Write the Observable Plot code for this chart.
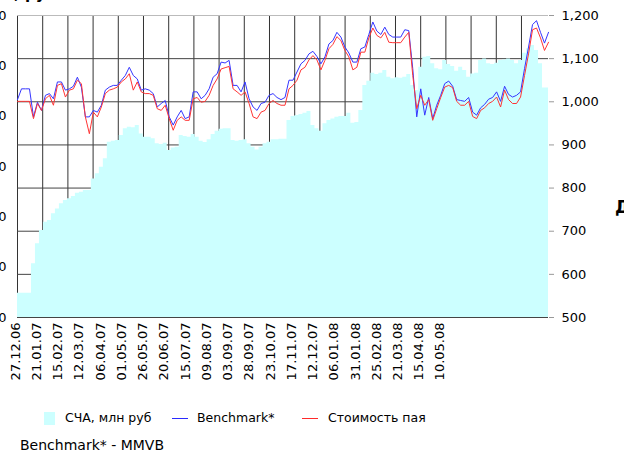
<!DOCTYPE html>
<html>
<head>
<meta charset="utf-8">
<script src="https://cdn.jsdelivr.net/npm/d3@7"></script>
<script src="https://cdn.jsdelivr.net/npm/@observablehq/plot@0.6"></script>
<style>
  html, body { margin: 0; padding: 0; background: #fff; }
  #wrap { position: relative; width: 624px; height: 454px; overflow: hidden; font-family: "DejaVu Sans", sans-serif; color: #000; }
  #chart { position: absolute; left: 0; top: 0; }
  #chart svg { overflow: visible; }
  .abs { position: absolute; white-space: nowrap; }
  .legend { font-size: 12.5px; }
  .sw { position: absolute; }
</style>
</head>
<body>
<div id="wrap">
  <div class="abs" id="title" style="right:568px; top:-14px; font: bold 15px 'DejaVu Sans', sans-serif; line-height:17px;">Стоимость пая, руб</div>
  <div id="chart"></div>
  <div class="abs" style="left:615px; top:197px; font: bold 17px 'DejaVu Sans', sans-serif;">Доходность</div>
  <div class="sw" style="left:44px; top:412px; width:11px; height:13px; background:#ccffff;"></div>
  <div class="abs legend" style="left:65px; top:410px;">СЧА, млн руб</div>
  <div class="sw" style="left:172px; top:418px; width:16px; height:1px; background:#2a2aff;"></div>
  <div class="abs legend" style="left:197px; top:410px;">Benchmark*</div>
  <div class="sw" style="left:302px; top:418px; width:16px; height:1px; background:#ff2a2a;"></div>
  <div class="abs legend" style="left:328px; top:410px;">Стоимость пая</div>
  <div class="abs" style="left:20px; top:437px; font-size:14px;">Benchmark* - MMVB</div>
</div>
<script>
// Date tick labels (every 25 days from 27.12.06)
const tickLabels = ["27.12.06","21.01.07","15.02.07","12.03.07","06.04.07","01.05.07","26.05.07","20.06.07","15.07.07","09.08.07","03.09.07","28.09.07","23.10.07","17.11.07","12.12.07","06.01.08","31.01.08","25.02.08","21.03.08","15.04.08","10.05.08"];
const labelStepDays = 25;
const axisSpanDays = 625;
const gridStepDays = 29.66;

// Right axis (unit value / benchmark)
const rightTicks = [500, 600, 700, 800, 900, 1000, 1100, 1200];
// Left axis (СЧА, млн руб) – labels mostly cut off in the original
const leftTicks = [0, 500, 1000, 1500, 2000, 2500, 3000];
const leftMax = 3000;

// Benchmark* (MMVB), sampled evenly across the period
const benchmark = [
  1005,1030,1030,1030,965,999,980,1015,1019,1007,
  1046,1046,1027,1030,1036,1057,1034,965,965,980,
  976,992,1027,1034,1038,1038,1050,1061,1080,1061,
  1053,1027,1030,1027,1019,988,996,1003,965,946,
  965,980,961,965,1023,1023,1007,1015,1030,1057,
  1065,1092,1090,1096,1038,1038,1023,1046,1007,988,
  980,996,999,1015,1019,1010,1005,1010,1050,
  1050,1069,1088,1096,1111,1117,1105,1088,1104,1134,
  1142,1161,1150,1127,1113,1092,1092,1123,1127,1156,
  1185,1164,1156,1173,1156,1150,1150,1150,1167,1165,
  1077,965,1030,969,1010,961,992,1015,1042,1048,
  1036,1005,1003,1001,1010,976,969,986,994,1006,
  1010,1023,1001,1036,1017,1011,1015,1023,1077,1127,
  1179,1188,1161,1136,1161
];
// Стоимость пая (unit value)
const fund = [
  1001,1001,1001,1001,961,996,980,1007,1015,992,
  1038,1042,1011,1027,1030,1050,1042,965,926,976,
  965,988,1019,1027,1030,1034,1046,1053,1065,1027,
  1046,1023,1019,1019,1015,984,980,992,961,934,
  957,965,957,957,1007,1010,999,1001,1015,1038,
  1053,1076,1079,1082,1030,1023,1015,1023,996,965,
  961,976,980,996,1003,996,992,992,1030,
  1038,1050,1074,1080,1097,1107,1097,1074,1096,1123,
  1133,1151,1142,1119,1104,1074,1080,1115,1115,1148,
  1171,1154,1148,1161,1138,1137,1137,1137,1150,1161,
  1061,984,1015,992,1005,957,984,1010,1034,1038,
  1033,1001,992,992,1001,966,961,980,986,996,
  1001,1011,988,1027,1005,996,996,1011,1061,1111,
  1167,1171,1148,1119,1138
];
// СЧА, млн руб (left axis units)
const nav = [
  242,242,242,242,533,732,864,947,963,1030,
  1079,1129,1162,1179,1202,1235,1245,1262,1262,1377,
  1427,1493,1576,1742,1752,1758,1808,1874,1891,1884,
  1907,1824,1791,1791,1775,1725,1718,1732,1659,1685,
  1692,1808,1798,1791,1818,1791,1752,1738,1765,1818,
  1851,1871,1874,1874,1758,1752,1758,1765,1725,1692,
  1665,1692,1725,1742,1765,1765,1771,1771,1957,
  1997,2006,2016,2030,2046,1907,1874,1851,1924,1957,
  1973,1990,1997,1997,2030,1930,1937,2056,2304,2348,
  2427,2414,2427,2454,2387,2371,2381,2377,2387,2414,
  2304,2255,2487,2586,2593,2520,2470,2460,2553,2513,
  2493,2447,2487,2454,2387,2420,2427,2553,2569,2520,
  2513,2526,2553,2559,2569,2553,2520,2553,2626,2669,
  2702,2652,2520,2281,2281
];

const yMin = 500, yMax = 1200;
const leftToY = v => yMin + v * (yMax - yMin) / leftMax;
const sampleStep = axisSpanDays / (benchmark.length - 1);
const rows = benchmark.map((b, i) => ({ d: i * sampleStep, bench: b, fund: fund[i], nav: leftToY(nav[i]) }));

const tickDays = tickLabels.map((_, i) => i * labelStepDays);
const labelByDay = new Map(tickDays.map((d, i) => [d, tickLabels[i]]));
const gridDays = d3.range(0, axisSpanDays - 5, gridStepDays);
const leftTickY = leftTicks.map(leftToY);
const leftByY = new Map(leftTicks.map(v => [leftToY(v), v]));

const chart = Plot.plot({
  width: 624,
  height: 390,
  marginTop: 15,
  marginBottom: 73,
  marginLeft: 17,
  marginRight: 76,
  x: { domain: [0, axisSpanDays] },
  y: { domain: [yMin, yMax] },
  style: { fontFamily: "DejaVu Sans", fontSize: "13px", color: "#000", background: "transparent" },
  marks: [
    Plot.ruleX(gridDays, { stroke: "#333", strokeWidth: 1 }),
    Plot.ruleY(rightTicks, { stroke: d => d === yMax ? "#bbb" : "#444", strokeWidth: 1 }),
    Plot.areaY(rows, { x: "d", y1: yMin, y2: "nav", fill: "#ccffff", curve: "step" }),
    Plot.lineY(rows, { x: "d", y: "bench", stroke: "#3535ff", strokeWidth: 1 }),
    Plot.lineY(rows, { x: "d", y: "fund", stroke: "#ff3535", strokeWidth: 1 }),
    Plot.axisY(rightTicks, { anchor: "right", tickSize: 5, tickPadding: 8, tickFormat: d3.format(","), stroke: "#999", label: null }),
    Plot.axisY(leftTickY, { anchor: "left", tickSize: 0, tickPadding: 11, tickFormat: d => d3.format(",")(leftByY.get(d)), label: null }),
    Plot.axisX(tickDays, { anchor: "bottom", tickSize: 0, tickPadding: 5, tickRotate: -90, tickFormat: d => labelByDay.get(d), label: null, dx: -2 })
  ]
});
document.getElementById("chart").appendChild(chart);
</script>
</body>
</html>
